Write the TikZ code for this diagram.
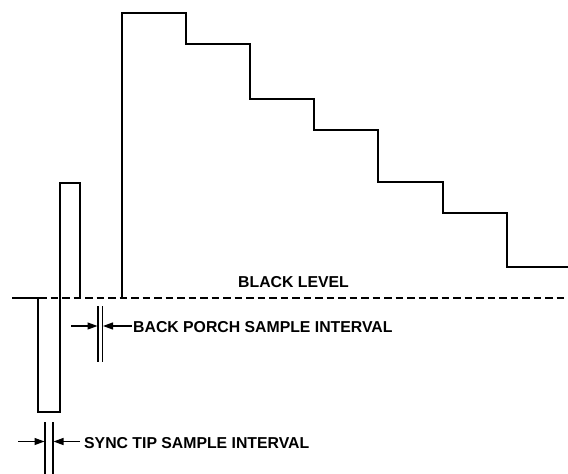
\documentclass[tikz,border=0pt]{standalone}
\usepackage{fontspec}
\setmainfont{Liberation Sans}
\usetikzlibrary{arrows.meta}
\begin{document}
\begin{tikzpicture}[x=1pt,y=-1pt,
  wave/.style={line width=2pt,line join=miter,line cap=rect},
  level/.style={line width=2pt,dash pattern=on 7.5pt off 4pt},
  marker/.style={line width=1.2pt},
  dimarrow/.style={line width=1.2pt,-{Triangle[length=10pt,width=7pt]}},
  lbl/.style={inner sep=0pt,anchor=base west,font=\fontsize{15.8}{18}\selectfont\bfseries}]
\useasboundingbox (0,0) rectangle (568,474);
% waveform: sync pulse and back porch
\draw[wave] (13,298) -- (38,298) -- (38,412) -- (60,412) -- (60,183) -- (80,183) -- (80,298);
% black level
\coordinate (blA) at (39,298);
\coordinate (blB) at (568,298);
\draw[level] (blA) -- (blB);
% staircase
\draw[wave] (122,298) -- (122,13) -- (186,13) -- (186,44) -- (250,44) -- (250,98.5)
  -- (314,98.5) -- (314,130) -- (378,130) -- (378,181.5) -- (443,181.5) -- (443,212.5)
  -- (506.5,212.5) -- (506.5,266.5) -- (570,266.5);
% labels
\node[lbl] (black) at (238,287) {BLACK LEVEL};
\node[lbl] (back) at (133,332.5) {BACK PORCH SAMPLE INTERVAL};
\node[lbl] (sync) at (84,448) {SYNC TIP SAMPLE INTERVAL};
% back porch interval
\coordinate (bp1t) at (98,306); \coordinate (bp1b) at (98,362);
\coordinate (bp2t) at (102.5,306); \coordinate (bp2b) at (102.5,362);
\draw[marker] (bp1t) -- (bp1b);
\draw[marker] (bp2t) -- (bp2b);
\coordinate (bpL) at (71,326); \coordinate (bpLt) at (97.5,326);
\coordinate (bpR) at (131.5,326); \coordinate (bpRt) at (103,326);
\draw[dimarrow] (bpL) -- (bpLt);
\draw[dimarrow] (bpR) -- (bpRt);
% sync tip interval
\coordinate (st1t) at (45,422); \coordinate (st1b) at (45,474);
\coordinate (st2t) at (53,422); \coordinate (st2b) at (53,474);
\draw[marker] (st1t) -- (st1b);
\draw[marker] (st2t) -- (st2b);
\coordinate (stL) at (18,441.5); \coordinate (stLt) at (44.5,441.5);
\coordinate (stR) at (80,441.5); \coordinate (stRt) at (53.5,441.5);
\draw[dimarrow] (stL) -- (stLt);
\draw[dimarrow] (stR) -- (stRt);
\end{tikzpicture}
\end{document}
